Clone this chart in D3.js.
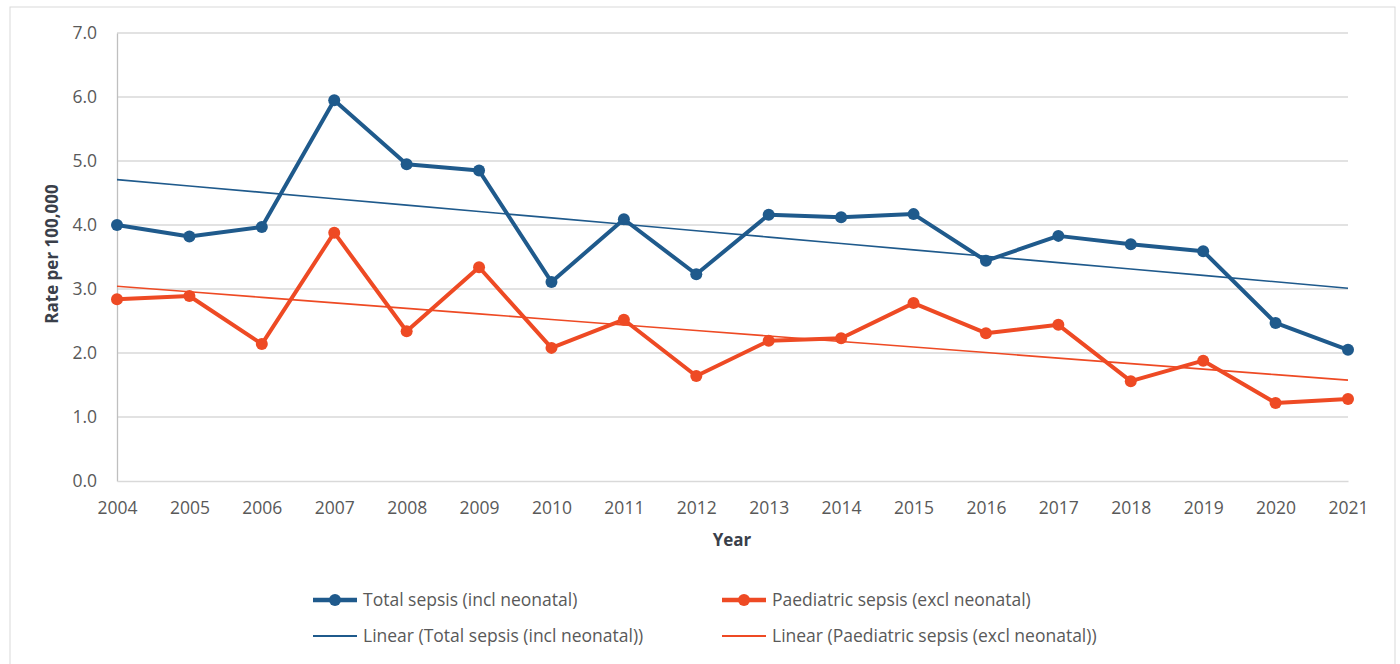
<!DOCTYPE html>
<html>
<head>
<meta charset="utf-8">
<script src="https://cdn.jsdelivr.net/npm/d3@7"></script>
<style>
  body { margin: 0; background: #fff; }
  svg text { font-family: "Open Sans", "Noto Sans", sans-serif; }
</style>
</head>
<body>
<script>
const years = [2004, 2005, 2006, 2007, 2008, 2009, 2010, 2011, 2012,
               2013, 2014, 2015, 2016, 2017, 2018, 2019, 2020, 2021];
const totalSepsis = [4.00, 3.82, 3.97, 5.95, 4.95, 4.85, 3.11, 4.09, 3.23,
                     4.16, 4.12, 4.17, 3.44, 3.83, 3.70, 3.59, 2.47, 2.05];
const paedSepsis = [2.84, 2.89, 2.14, 3.88, 2.34, 3.34, 2.08, 2.52, 1.64,
                    2.19, 2.23, 2.78, 2.31, 2.44, 1.56, 1.88, 1.22, 1.28];
const yTicks = [0, 1, 2, 3, 4, 5, 6, 7];
const seriesNames = ["Total sepsis (incl neonatal)", "Paediatric sepsis (excl neonatal)"];

const BLUE = "#1f5a8c";
const RED = "#ee4a24";

const w = 1400, h = 664;
const svg = d3.select("body").append("svg")
              .attr("width", w)
              .attr("height", h)

svg.append("rect")
   .attr("x", 10).attr("y", 7)
   .attr("width", 1385).attr("height", 680)
   .attr("fill", "#fff")
   .attr("stroke", "#d9d9d9")

const x = d3.scaleLinear().domain([2004, 2021]).range([117, 1348]);
const y = d3.scaleLinear().domain([0, 7]).range([481, 33]);

// gridlines
svg.append("g")
   .selectAll("line")
   .data(yTicks.slice(1))
   .enter()
   .append("line")
   .attr("x1", 117).attr("x2", 1348)
   .attr("y1", d => y(d)).attr("y2", d => y(d))
   .attr("stroke", "#d9d9d9")
   .attr("stroke-width", 1.3)

// axes
const yAxis = svg.append("g")
   .attr("transform", "translate(117,0)")
   .call(d3.axisLeft(y).tickValues(yTicks).tickFormat(d3.format(".1f")).tickSize(0).tickPadding(20))
yAxis.select(".domain").attr("stroke", "#bfbfbf").attr("stroke-width", 1.3)
yAxis.selectAll("text").attr("fill", "#595959").style("font-size", "17.5px")

const xAxis = svg.append("g")
   .attr("transform", "translate(0,481)")
   .call(d3.axisBottom(x).tickValues(years).tickFormat(d3.format("d")).tickSize(0).tickPadding(21))
xAxis.select(".domain").attr("stroke", "#d9d9d9").attr("stroke-width", 1.3)
xAxis.selectAll("text").attr("fill", "#595959").style("font-size", "17.5px")

svg.append("text")
   .attr("transform", "translate(58,254) rotate(-90)")
   .attr("text-anchor", "middle")
   .attr("fill", "#3a3f4a")
   .style("font-size", "17px")
   .style("font-weight", "bold")
   .text("Rate per 100,000")

svg.append("text")
   .attr("x", 732).attr("y", 546)
   .attr("text-anchor", "middle")
   .attr("fill", "#3a3f4a")
   .style("font-size", "17px")
   .style("font-weight", "bold")
   .text("Year")

// linear trend (least squares, as the spreadsheet does)
function trend(vals) {
  const mx = d3.mean(years), my = d3.mean(vals);
  const b = d3.sum(years, (t, i) => (t - mx) * (vals[i] - my)) / d3.sum(years, t => (t - mx) ** 2);
  return years.map(t => my + b * (t - mx));
}

const line = d3.line().x((d, i) => x(years[i])).y(d => y(d));

[[totalSepsis, BLUE], [paedSepsis, RED]].forEach(([vals, col]) => {
  svg.append("path")
     .attr("d", line(trend(vals)))
     .attr("fill", "none")
     .attr("stroke", col)
     .attr("stroke-width", 1.6)
});

[[totalSepsis, BLUE], [paedSepsis, RED]].forEach(([vals, col]) => {
  svg.append("path")
     .attr("d", line(vals))
     .attr("fill", "none")
     .attr("stroke", col)
     .attr("stroke-width", 4)
     .attr("stroke-linejoin", "round")
  svg.append("g")
     .selectAll("circle")
     .data(vals)
     .enter()
     .append("circle")
     .attr("cx", (d, i) => x(years[i]))
     .attr("cy", d => y(d))
     .attr("r", 6)
     .attr("fill", col)
});

// legend
const legendItems = [
  { label: seriesNames[0], col: BLUE, marker: true, lx: 313, ly: 600 },
  { label: seriesNames[1], col: RED, marker: true, lx: 722, ly: 600 },
  { label: "Linear (" + seriesNames[0] + ")", col: BLUE, marker: false, lx: 313, ly: 636 },
  { label: "Linear (" + seriesNames[1] + ")", col: RED, marker: false, lx: 722, ly: 636 }
];

const legend = svg.append("g")
   .selectAll("g")
   .data(legendItems)
   .enter()
   .append("g")
   .attr("transform", d => "translate(" + d.lx + "," + d.ly + ")")

legend.append("line")
      .attr("x1", 0).attr("x2", 44)
      .attr("stroke", d => d.col)
      .attr("stroke-width", d => d.marker ? 4.5 : 2)
legend.filter(d => d.marker)
      .append("circle")
      .attr("cx", 22).attr("r", 6)
      .attr("fill", d => d.col)
legend.append("text")
      .attr("x", 50).attr("y", 6)
      .attr("fill", "#595959")
      .style("font-size", "17.5px")
      .text(d => d.label)
</script>
</body>
</html>
